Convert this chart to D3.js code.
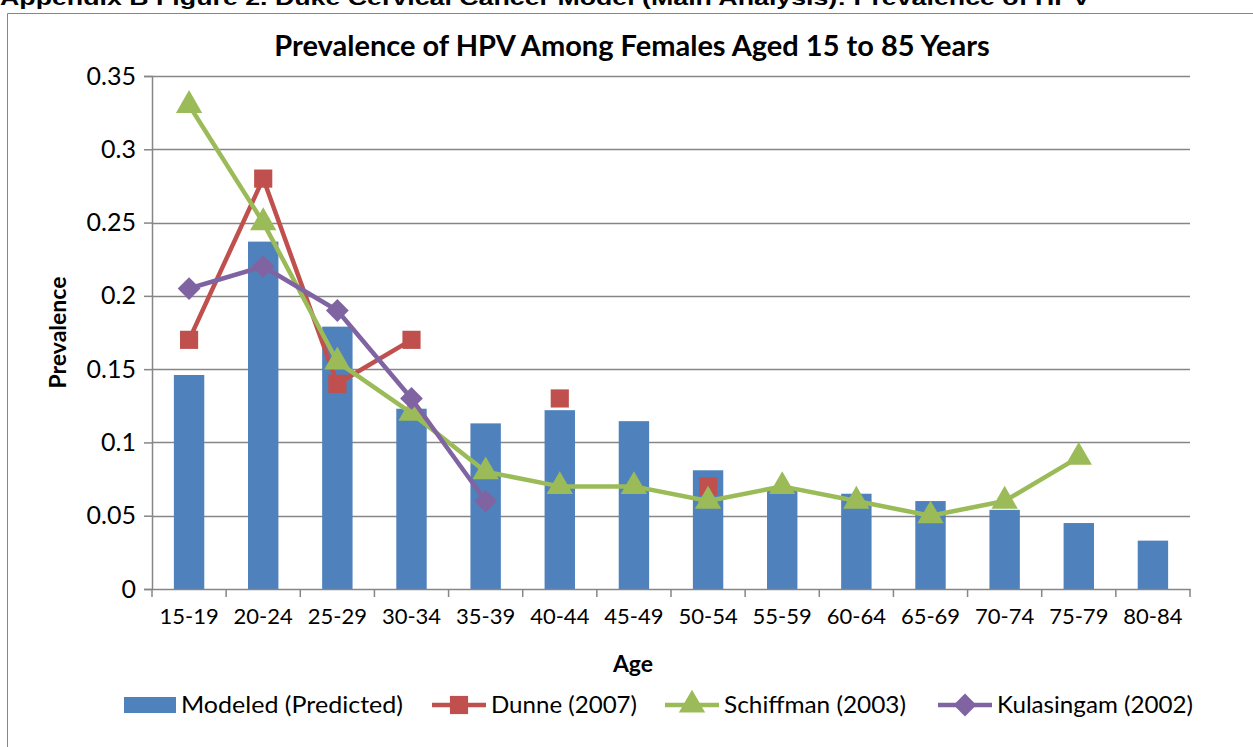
<!doctype html>
<html lang="en">
<head>
  <meta charset="utf-8">
  <title>Prevalence of HPV Among Females Aged 15 to 85 Years</title>
  <style>
    body { margin:0; background:#fff; overflow:hidden; }
    #chart text { font-family: Lato, "Open Sans", sans-serif; fill:#000; }
    #chart .hdr { font-family: "Liberation Sans", Arial, sans-serif; }
  </style>
</head>
<body>
  <svg id="chart" width="1253" height="747"></svg>

<script src="https://cdn.jsdelivr.net/npm/d3@7"></script>
<script>
var ages = ['15-19','20-24','25-29','30-34','35-39','40-44','45-49','50-54','55-59','60-64','65-69','70-74','75-79','80-84'];
var modeled = [0.146,0.237,0.179,0.123,0.113,0.122,0.1145,0.081,0.069,0.065,0.060,0.054,0.045,0.033];
var dunne = [0.17,0.28,0.14,0.17,null,0.13,null,0.07,null,null,null,null,null,null];
var schiffman = [0.33,0.25,0.155,0.12,0.08,0.07,0.07,0.06,0.07,0.06,0.05,0.06,0.09,null];
var kulasingam = [0.205,0.22,0.19,0.13,0.06,null,null,null,null,null,null,null,null,null];
var yTicks = [0,0.05,0.1,0.15,0.2,0.25,0.3,0.35];

var svg = d3.select('#chart');

// header cut off at top of the page
svg.append('text').attr('class','hdr')
  .attr('x', 0).attr('y', 5)
  .attr('font-size', 20).attr('font-weight','bold')
  .attr('textLength', 1090).attr('lengthAdjust','spacingAndGlyphs')
  .text('Appendix B Figure 2. Duke Cervical Cancer Model (Main Analysis): Prevalence of HPV');

// chart frame
svg.append('path').attr('d','M7.5,760V13.5H1260')
  .attr('fill','none').attr('stroke','#868686').attr('stroke-width',1);

var pLeft = 152, pRight = 1190, pTop = 76, pBottom = 589;

var x = d3.scaleBand().domain(ages).range([pLeft, pRight]).padding(0);
var y = d3.scaleLinear().domain([0, 0.35]).range([pBottom, pTop]);

// gridlines
svg.append('g').selectAll('line').data(yTicks.slice(1)).join('line')
  .attr('x1', pLeft).attr('x2', pRight)
  .attr('y1', d => Math.round(y(d)) + 0.5).attr('y2', d => Math.round(y(d)) + 0.5)
  .attr('stroke','#868686').attr('stroke-width',1.5);

// y axis
var yAxis = svg.append('g').attr('transform','translate(' + pLeft + ',0)')
  .call(d3.axisLeft(y).tickValues(yTicks).tickSize(8).tickPadding(6).tickFormat(d => String(+d.toFixed(2))));
yAxis.select('.domain').attr('stroke','#868686').attr('stroke-width',1.5);
yAxis.selectAll('.tick line').attr('stroke','#868686').attr('stroke-width',1.5);
yAxis.selectAll('text').attr('font-size',25).attr('dx', -2);

// bars
var bw = x.bandwidth() * 0.41;
svg.append('g').selectAll('rect').data(modeled).join('rect')
  .attr('x', (d, i) => x(ages[i]) + x.bandwidth() / 2 - bw / 2)
  .attr('y', d => y(d))
  .attr('width', bw)
  .attr('height', d => pBottom - y(d))
  .attr('fill','#4F81BD');

// x axis
var xAxis = svg.append('g').attr('transform','translate(0,' + pBottom + ')')
  .call(d3.axisBottom(x).tickSize(0).tickPadding(22));
xAxis.select('.domain').attr('stroke','#868686').attr('stroke-width',1.5);
xAxis.selectAll('text').attr('font-size',22).attr('dy','0.6em');
svg.append('g').selectAll('line').data(d3.range(ages.length + 1)).join('line')
  .attr('x1', i => pLeft + i * x.bandwidth()).attr('x2', i => pLeft + i * x.bandwidth())
  .attr('y1', pBottom).attr('y2', pBottom + 8)
  .attr('stroke','#868686').attr('stroke-width',1.5);

// marker shapes
var sq = d3.symbol().type(d3.symbolSquare).size(330);
var tri = d3.symbol().type(d3.symbolTriangle).size(300);
var dia = d3.symbol().type(d3.symbolSquare).size(260);

var series = [
  { name:'Dunne (2007)', vals:dunne, color:'#C0504D', sym:sq, rot:0 },
  { name:'Schiffman (2003)', vals:schiffman, color:'#9BBB59', sym:tri, rot:0 },
  { name:'Kulasingam (2002)', vals:kulasingam, color:'#8064A2', sym:dia, rot:45 }
];

var line = d3.line()
  .defined(d => d.v != null)
  .x(d => x(d.a) + x.bandwidth() / 2)
  .y(d => y(d.v));

series.forEach(function (s) {
  var pts = s.vals.map((v, i) => ({ a: ages[i], v: v }));
  var g = svg.append('g');
  g.append('path').datum(pts).attr('d', line)
    .attr('fill','none').attr('stroke', s.color).attr('stroke-width',4.5)
    .attr('stroke-linejoin','round');
  g.selectAll('path.m').data(pts.filter(d => d.v != null)).join('path')
    .attr('class','m')
    .attr('d', s.sym)
    .attr('transform', d => 'translate(' + (x(d.a) + x.bandwidth() / 2) + ',' + y(d.v) + ') rotate(' + s.rot + ')')
    .attr('fill', s.color);
});

// titles
svg.append('text').attr('x', 632).attr('y', 56).attr('text-anchor','middle')
  .attr('font-size',29).attr('font-weight','bold')
  .text('Prevalence of HPV Among Females Aged 15 to 85 Years');
svg.append('text').attr('transform','translate(66,' + ((pTop + pBottom) / 2) + ') rotate(-90)')
  .attr('text-anchor','middle').attr('font-size',23).attr('font-weight','bold')
  .text('Prevalence');
svg.append('text').attr('x', 633).attr('y', 672).attr('text-anchor','middle')
  .attr('font-size',23).attr('font-weight','bold')
  .text('Age');

// legend
var ly = 705;
var leg = svg.append('g');
leg.append('rect').attr('x',124).attr('y',ly - 8).attr('width',52).attr('height',16).attr('fill','#4F81BD');
leg.append('text').attr('x',181).attr('y',ly + 8).attr('font-size',24)
  .attr('textLength',222).attr('lengthAdjust','spacingAndGlyphs').text('Modeled (Predicted)');
var lx = [432, 665, 938];
var lw = [146, 182, 196];
series.forEach(function (s, i) {
  leg.append('line').attr('x1', lx[i]).attr('x2', lx[i] + 54).attr('y1', ly).attr('y2', ly)
    .attr('stroke', s.color).attr('stroke-width',4.5);
  leg.append('path').attr('d', s.sym)
    .attr('transform','translate(' + (lx[i] + 27) + ',' + ly + ') rotate(' + s.rot + ')')
    .attr('fill', s.color);
  leg.append('text').attr('x', lx[i] + 59).attr('y', ly + 8).attr('font-size',24)
    .attr('textLength', lw[i]).attr('lengthAdjust','spacingAndGlyphs').text(s.name);
});
</script>
</body>
</html>
